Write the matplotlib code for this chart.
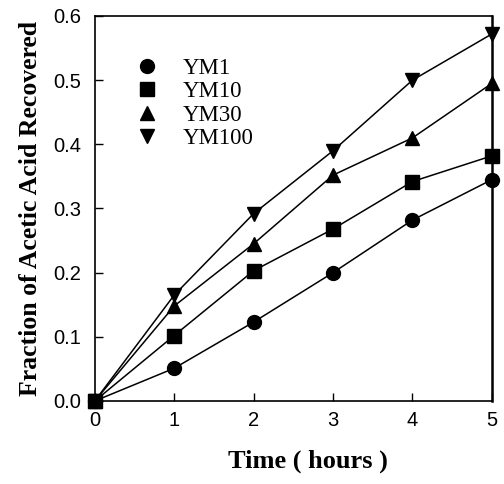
import matplotlib.pyplot as plt
import numpy as np

time = [0, 1, 2, 3, 4, 5]
ym1 = [0.0, 0.051, 0.123, 0.200, 0.282, 0.345]
ym10 = [0.0, 0.102, 0.203, 0.268, 0.342, 0.382]
ym30 = [0.0, 0.148, 0.245, 0.352, 0.410, 0.495]
ym100 = [0.0, 0.165, 0.292, 0.390, 0.500, 0.572]

series = [("YM1", ym1, "o"), ("YM10", ym10, "s"), ("YM30", ym30, "^"), ("YM100", ym100, "v")]

fig = plt.figure(figsize=(5.04, 4.84), dpi=100)
ax = fig.add_axes([0.188, 0.1715, 0.788, 0.7955])

for nom, vals, mk in series:
    ax.plot(time, vals, color="black", lw=1.1, marker=mk, markersize=10,
            clip_on=False, zorder=3, label=nom)

ax.set_xlim(0, 5)
ax.set_ylim(0, 0.6)
ax.set_xticks(np.arange(0, 6, 1))
ax.set_yticks(np.arange(0, 0.61, 0.1))
ax.set_yticklabels(["0.0", "0.1", "0.2", "0.3", "0.4", "0.5", "0.6"])
ax.tick_params(direction="in", length=6, width=1, labelsize=14.5)
ax.tick_params(axis="y", pad=10)
ax.tick_params(axis="x", pad=7)
for lab in ax.get_xticklabels() + ax.get_yticklabels():
    lab.set_fontfamily("Liberation Sans")
for sp in ax.spines.values():
    sp.set_linewidth(1.2)
ax.spines["right"].set_linewidth(1.8)

ax.set_xlabel("Time ( hours )", fontsize=19, fontweight="bold", family="Liberation Serif", labelpad=14)
ax.xaxis.label.set_x(0.538)
ax.set_ylabel("Fraction of Acetic Acid Recovered", fontsize=18.5, fontweight="bold", family="Liberation Serif", labelpad=8)

# legende sans lignes
handles = [plt.Line2D([], [], color="black", marker=mk, markersize=10, ls="none") for _, _, mk in series]
ax.legend(handles, [s[0] for s in series], loc="upper left", bbox_to_anchor=(0.05, 0.915),
          frameon=False, prop={"family": "Liberation Serif", "size": 16.5},
          handletextpad=0.55, labelspacing=0.1, borderaxespad=0)

fig.savefig("out.png", dpi=100)
